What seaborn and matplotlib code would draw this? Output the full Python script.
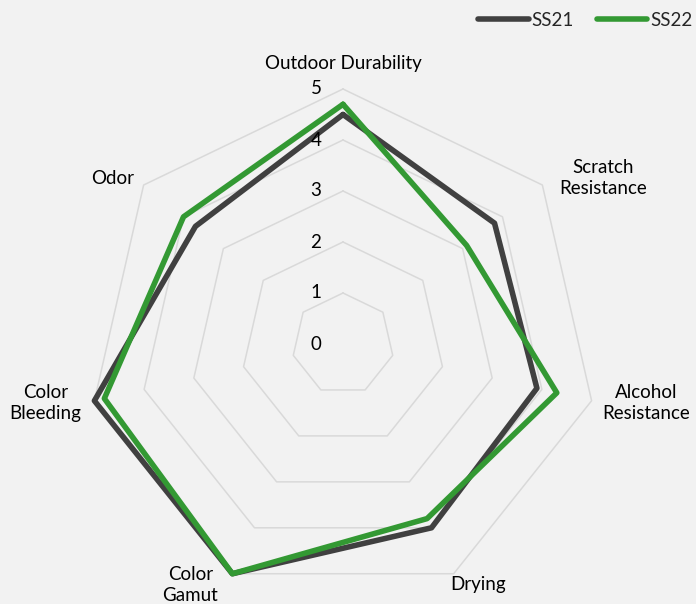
import numpy as np
import pandas as pd
import matplotlib
matplotlib.use("Agg")
import matplotlib.pyplot as plt
import seaborn as sns
from matplotlib.lines import Line2D

# chart data
categories = ["Outdoor Durability", "Scratch\nResistance", "Alcohol\nResistance", "Drying",
              "Color\nGamut", "Color\nBleeding", "Odor"]
ss21 = [4.5, 3.8, 3.9, 4.0, 5.0, 5.0, 3.7]
ss22 = [4.7, 3.1, 4.3, 3.8, 5.0, 4.8, 4.0]
series_names = ["SS21", "SS22"]
ring_levels = [0, 1, 2, 3, 4, 5]

colors = {"SS21": "#404040", "SS22": "#339933"}
bg = "#F2F2F2"
fs = 13.5

sns.set_theme(style="white")
plt.rcParams['font.family'] = ['Lato', 'DejaVu Sans']

n = len(categories)
angles = np.linspace(0, 2 * np.pi, n, endpoint=False)
closed = np.append(angles, angles[0])

rows = []
for name, vals in zip(series_names, [ss21, ss22]):
    for t, v in zip(closed, list(vals) + [vals[0]]):
        rows.append({"theta": t, "value": v, "season": name})
df = pd.DataFrame(rows)

fig = plt.figure(figsize=(6.96, 6.04), dpi=100, facecolor=bg)
ax = fig.add_axes([88 / 696, 5 / 604, 510 / 696, 510 / 604], projection="polar")
ax.set_facecolor("none")
ax.set_theta_zero_location("N")
ax.set_theta_direction(-1)
ax.set_ylim(0, 5)
ax.grid(False)
ax.spines["polar"].set_visible(False)
ax.set_xticks([])
ax.set_yticks([])

# polygon grid rings
for lvl in ring_levels[1:]:
    ax.plot(closed, [lvl] * len(closed), color="#D9D9D9", lw=1.1, zorder=1, clip_on=False)

sns.lineplot(data=df, x="theta", y="value", hue="season", palette=colors, sort=False,
             estimator=None, linewidth=4, legend=False, ax=ax, clip_on=False, zorder=3)
ax.set_xlabel("")
ax.set_ylabel("")

# value labels along the top axis
for lvl in ring_levels:
    ax.annotate(str(lvl), xy=(0, lvl), xytext=(-27, 0), textcoords="offset pixels",
                ha="center", va="center", fontsize=fs, color="#000000")

# category labels
offsets = [(0, 26), (61, 7), (55, -2), (24, -11), (-42, -11), (-49, -2), (-31, 7)]
for a, lab, off in zip(angles, categories, offsets):
    ax.annotate(lab, xy=(a, 5), xytext=off, textcoords="offset pixels",
                ha="center", va="center", fontsize=fs, color="#000000", linespacing=1.3)

handles = [Line2D([0], [0], color=colors[s], lw=4) for s in series_names]
fig.legend(handles, series_names, loc="center right", bbox_to_anchor=(1.0, 1 - 20 / 604),
           ncol=2, frameon=False, fontsize=fs, handlelength=2.7, handletextpad=0.15,
           columnspacing=1.2, borderaxespad=0.1, borderpad=0.1)

fig.savefig("out.png", dpi=100, facecolor=bg)
